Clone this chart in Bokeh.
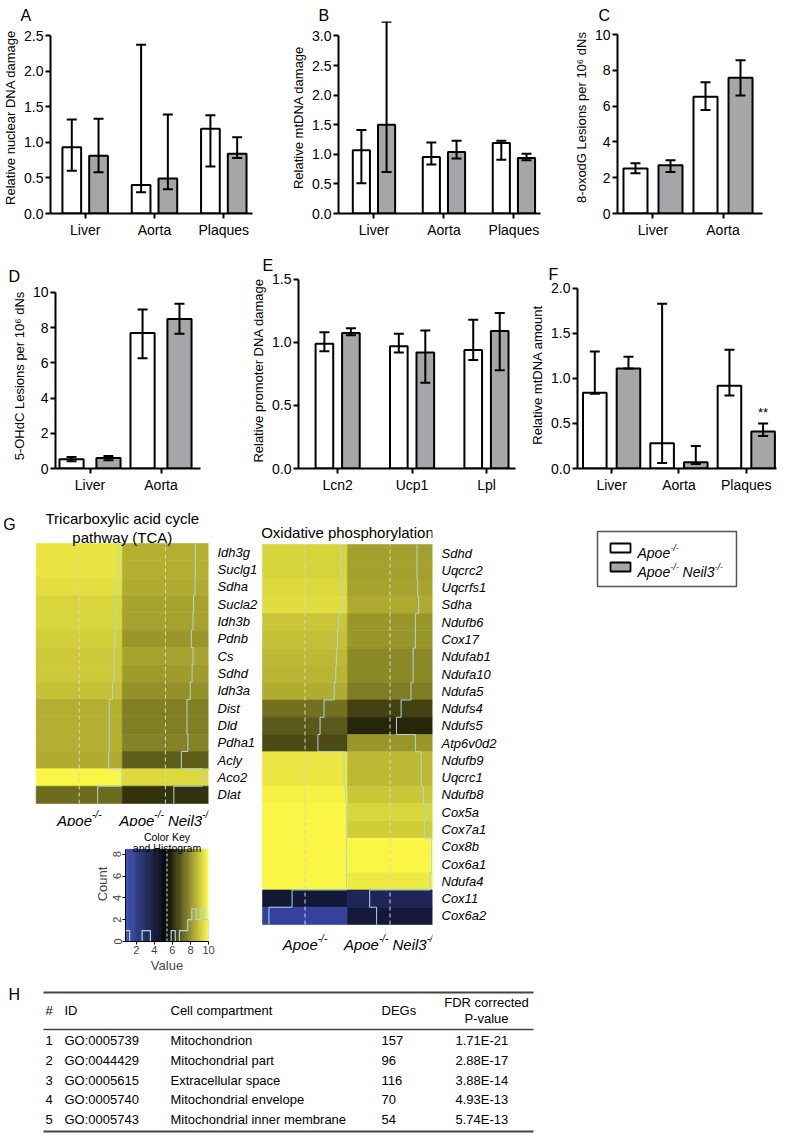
import numpy as np
from bokeh.plotting import figure
from bokeh.models import (ColumnDataSource, Range1d, FixedTicker, NumeralTickFormatter,
                          Whisker, TeeHead, LinearColorMapper)
from bokeh.transform import dodge
from bokeh.layouts import row, column
from bokeh.core.properties import value
from bokeh.embed import file_html
from bokeh.resources import INLINE

# ---------------------------------------------------------------- data
tissues3 = ["Liver", "Aorta", "Plaques"]
tissues2 = ["Liver", "Aorta"]
promoters = ["Lcn2", "Ucp1", "Lpl"]

A_apoe = [0.93, 0.40, 1.19]
A_apoe_lo = [0.60, 0.30, 0.66]
A_apoe_hi = [1.32, 2.37, 1.38]
A_neil3 = [0.81, 0.49, 0.84]
A_neil3_lo = [0.58, 0.34, 0.78]
A_neil3_hi = [1.33, 1.39, 1.07]
A_yticks = [0, 0.5, 1.0, 1.5, 2.0, 2.5]

B_apoe = [1.07, 0.955, 1.19]
B_apoe_lo = [0.51, 0.83, 0.91]
B_apoe_hi = [1.41, 1.20, 1.23]
B_neil3 = [1.50, 1.04, 0.94]
B_neil3_lo = [0.70, 0.93, 0.90]
B_neil3_hi = [3.24, 1.23, 1.01]
B_yticks = [0, 0.5, 1.0, 1.5, 2.0, 2.5, 3.0]

C_apoe = [2.51, 6.53]
C_apoe_lo = [2.25, 5.79]
C_apoe_hi = [2.81, 7.34]
C_neil3 = [2.70, 7.58]
C_neil3_lo = [2.32, 6.59]
C_neil3_hi = [2.98, 8.56]
C_yticks = [0, 2, 4, 6, 8, 10]

D_apoe = [0.52, 7.70]
D_apoe_lo = [0.41, 6.26]
D_apoe_hi = [0.65, 9.03]
D_neil3 = [0.60, 8.50]
D_neil3_lo = [0.47, 7.66]
D_neil3_hi = [0.71, 9.36]
D_yticks = [0, 2, 4, 6, 8, 10]

E_apoe = [0.99, 0.97, 0.94]
E_apoe_lo = [0.93, 0.92, 0.86]
E_apoe_hi = [1.08, 1.07, 1.18]
E_neil3 = [1.075, 0.92, 1.09]
E_neil3_lo = [1.057, 0.68, 0.78]
E_neil3_hi = [1.113, 1.095, 1.234]
E_yticks = [0, 0.5, 1.0, 1.5]

F_apoe = [0.84, 0.28, 0.92]
F_apoe_lo = [0.83, 0.06, 0.81]
F_apoe_hi = [1.30, 1.83, 1.32]
F_neil3 = [1.11, 0.07, 0.41]
F_neil3_lo = [1.11, 0.05, 0.36]
F_neil3_hi = [1.24, 0.25, 0.50]
F_neil3_sig = ["", "", "**"]
F_yticks = [0, 0.5, 1.0, 1.5, 2.0]

tca_genes = ["Idh3g", "Suclg1", "Sdha", "Sucla2", "Idh3b", "Pdnb", "Cs", "Sdhd",
             "Idh3a", "Dist", "Dld", "Pdha1", "Acly", "Aco2", "Dlat"]
tca_apoe = [9.58, 9.58, 9.47, 9.30, 9.30, 9.20, 9.10, 9.10, 8.95, 8.60, 8.60, 8.60, 8.55, 9.90, 7.37]
tca_neil3 = [8.60, 8.60, 8.55, 8.40, 8.35, 8.16, 8.35, 8.25, 8.05, 7.70, 7.70, 7.80, 7.10, 9.36, 6.30]

ox_genes = ["Sdhd", "Uqcrc2", "Uqcrfs1", "Sdha", "Ndufb6", "Cox17", "Ndufab1", "Ndufa10",
            "Ndufa5", "Ndufs4", "Ndufs5", "Atp6v0d2", "Ndufb9", "Uqcrc1", "Ndufb8", "Cox5a",
            "Cox7a1", "Cox8b", "Cox6a1", "Ndufa4", "Cox11", "Cox6a2"]
ox_apoe = [9.27, 9.27, 9.38, 9.45, 9.02, 8.90, 8.80, 8.73, 8.56, 7.46, 7.03, 6.80,
           9.64, 9.64, 9.80, 9.90, 9.90, 9.90, 9.90, 9.90, 4.00, 1.50]
ox_neil3 = [8.32, 8.32, 8.40, 8.50, 8.14, 8.14, 7.90, 7.90, 7.67, 6.60, 6.10, 8.14,
            8.78, 8.78, 9.03, 9.30, 9.14, 9.90, 9.90, 9.70, 3.20, 3.95]

key_ticks = [2, 4, 6, 8, 10]
key_count_ticks = [0, 2, 4, 6, 8]
key_hist_counts = [1, 0, 0, 0, 1, 1, 0, 0, 0, 0, 0, 1, 0, 1, 1, 2, 3, 2, 3, 2]

tbl_rank = [1, 2, 3, 4, 5]
tbl_go = ["GO:0005739", "GO:0044429", "GO:0005615", "GO:0005740", "GO:0005743"]
tbl_comp = ["Mitochondrion", "Mitochondrial part", "Extracellular space",
            "Mitochondrial envelope", "Mitochondrial inner membrane"]
tbl_degs = [157, 96, 116, 70, 54]
tbl_fdr = [1.71e-21, 2.88e-17, 3.88e-14, 4.93e-13, 5.74e-13]

# ---------------------------------------------------------------- style
FONT = "Liberation Sans"
WHITE_FILL = "#ffffff"
GREY_FILL = "#a6a6a9"
TRACE = "#a9d8de"
VMIN, VMAX = 0.8, 10.0
VMID = (VMIN + VMAX) / 2
KEY_TOP = 8.45


def make_palette(n=256):
    anchors_t = [0.0, (VMID - VMIN) / (VMAX - VMIN), 1.0]
    anchors_c = np.array([[62, 78, 182], [0, 0, 0], [255, 250, 70]], dtype=float)
    t = np.linspace(0, 1, n)
    cols = np.stack([np.interp(t, anchors_t, anchors_c[:, k]) for k in range(3)], axis=1)
    return ["#%02x%02x%02x" % tuple(int(round(v)) for v in c) for c in cols]


PALETTE = make_palette()
MAPPER = LinearColorMapper(palette=PALETTE, low=VMIN, high=VMAX)

ARIAL_W = {'A': 667, 'p': 556, 'o': 556, 'e': 556, 'N': 722, 'i': 222, 'l': 222,
           '3': 556, '-': 333, '/': 278, ' ': 278}


def tw(s, size):
    return sum(ARIAL_W.get(ch, 556) for ch in s) * size / 1000.0


APOE_PIECES = [("Apoe", False), ("-/-", True)]
DKO_PIECES = APOE_PIECES + [(" ", False), ("Neil3", False), ("-/-", True)]


def txt(p, x, y, s, size, **kw):
    opts = dict(text_font=value(FONT), text_font_size=f"{size}px", text_color="black",
                text_baseline="alphabetic")
    opts.update(kw)
    p.text(x=[x], y=[y], text=[s], **opts)


def sup_text(p, x, y, pieces, size=15, sup_size=10, rise=6, align="center", dy=0):
    widths = [tw(t, sup_size if s else size) for t, s in pieces]
    start = -sum(widths) / 2 if align == "center" else 0.0
    for (t, s), w in zip(pieces, widths):
        if t.strip():
            txt(p, x, y, t, sup_size if s else size, x_offset=start,
                y_offset=dy - (rise if s else 0), text_font_style="italic",
                text_align="left")
        start += w


def style_axis(ax, label_size="14px"):
    ax.axis_line_width = 2
    ax.axis_line_color = "black"
    ax.major_tick_line_width = 2
    ax.major_tick_line_color = "black"
    ax.major_tick_out = 5
    ax.major_tick_in = 0
    ax.minor_tick_line_color = None
    ax.major_label_text_font = FONT
    ax.major_label_text_font_size = label_size
    ax.major_label_text_color = "black"
    ax.axis_label_text_font = FONT
    ax.axis_label_text_font_size = "13px"
    ax.axis_label_text_font_style = "normal"
    ax.axis_label_text_color = "black"
    ax.axis_label_standoff = 3
    ax.major_label_standoff = 2


def new_fig(w, h, xr, yr, borders, **kw):
    bl, br, bt, bb = borders
    p = figure(width=w, height=h, x_range=xr, y_range=yr, output_backend="svg",
               toolbar_location=None, min_border_left=bl, min_border_right=br,
               min_border_top=bt, min_border_bottom=bb, frame_align=False, **kw)
    p.outline_line_color = None
    p.grid.visible = False
    p.background_fill_color = "white"
    p.border_fill_color = "white"
    return p


def letter_strip(x0, x1, y0, y1, letters, baseline):
    # a thin strip whose data units equal screen pixels, carrying panel letters
    p = new_fig(x1 - x0, y1 - y0, Range1d(x0, x1), Range1d(y1, y0), (0, 0, 0, 0),
                x_axis_location=None, y_axis_location=None)
    for lx, lt in letters:
        txt(p, lx, baseline, lt, 16)
    return p


def bar_panel(ylabel, cats, apoe, apoe_lo, apoe_hi, neil, neil_lo, neil_hi,
              yticks, yfmt, ymax, xr, off, bw, w, h, borders, sig=None):
    p = new_fig(w, h, Range1d(*xr), Range1d(0, ymax), borders)
    g = list(range(len(cats)))
    for vals, lo, hi, dx, fill, s in [(apoe, apoe_lo, apoe_hi, -off, WHITE_FILL, None),
                                      (neil, neil_lo, neil_hi, off, GREY_FILL, sig)]:
        src = ColumnDataSource(dict(g=g, val=vals, lo=lo, hi=hi,
                                    sig=s if s is not None else [""] * len(g)))
        p.vbar(x=dodge("g", dx, range=p.x_range), top="val", width=bw, source=src,
               fill_color=fill, line_color="black", line_width=2)
        wk = Whisker(source=src, base=dodge("g", dx, range=p.x_range), upper="hi",
                     lower="lo", line_width=2, line_color="black", level="overlay",
                     upper_head=TeeHead(size=10, line_width=2, line_color="black"),
                     lower_head=TeeHead(size=10, line_width=2, line_color="black"))
        p.add_layout(wk)
        if s is not None:
            p.text(x=dodge("g", dx, range=p.x_range), y="hi", text="sig", source=src,
                   text_align="center", text_baseline="bottom", y_offset=-3,
                   text_font=value(FONT), text_font_size="13px", text_color="black")
    yax = p.yaxis[0]
    style_axis(yax)
    yax.ticker = FixedTicker(ticks=yticks)
    yax.formatter = NumeralTickFormatter(format=yfmt)
    yax.bounds = (0, yticks[-1])
    yax.axis_label = ylabel
    xax = p.xaxis[0]
    style_axis(xax)
    xax.ticker = FixedTicker(ticks=g)
    xax.major_label_overrides = {i: c for i, c in enumerate(cats)}
    xax.major_label_standoff = 3
    return p


# ---------------------------------------------------------------- row 1
strip1 = letter_strip(0, 787, 0, 21, [(20, "A"), (318, "B"), (598, "C")], 15)
pA = bar_panel("Relative nuclear DNA damage", tissues3,
               A_apoe, A_apoe_lo, A_apoe_hi, A_neil3, A_neil3_lo, A_neil3_hi,
               A_yticks, "0.0", 2.697, (-0.5, 2.414), 0.193, 0.27,
               256, 227, (48, 4, 0, 35))
pB = bar_panel("Relative mtDNA damage", tissues3,
               B_apoe, B_apoe_lo, B_apoe_hi, B_neil3, B_neil3_lo, B_neil3_hi,
               B_yticks, "0.0", 3.245, (-0.507, 2.38), 0.18, 0.245,
               290, 227, (82, 6, 0, 35))
pC = bar_panel("8-oxodG Lesions per 10\u2076 dNs", tissues2,
               C_apoe, C_apoe_lo, C_apoe_hi, C_neil3, C_neil3_lo, C_neil3_hi,
               C_yticks, "0", 10.73, (-0.507, 1.564), 0.25, 0.343,
               241, 227, (71, 25, 0, 35))

# ---------------------------------------------------------------- row 2
stripD = letter_strip(0, 248, 248, 283, [(8, "D")], 276)
pD = bar_panel("5-OHdC Lesions per 10\u2076 dNs", tissues2,
               D_apoe, D_apoe_lo, D_apoe_hi, D_neil3, D_neil3_lo, D_neil3_hi,
               D_yticks, "0", 10.51, (-0.486, 1.556), 0.26, 0.34,
               248, 212, (55, 48, 0, 26))
stripE = letter_strip(248, 527, 248, 272, [(262, "E")], 265)
pE = bar_panel("Relative promoter DNA damage", promoters,
               E_apoe, E_apoe_lo, E_apoe_hi, E_neil3, E_neil3_lo, E_neil3_hi,
               E_yticks, "0.0", 1.555, (-0.526, 2.39), 0.178, 0.237,
               279, 223, (45, 12, 0, 26))
stripF = letter_strip(527, 787, 248, 281, [(548, "F")], 274)
pF = bar_panel("Relative mtDNA amount", tissues3,
               F_apoe, F_apoe_lo, F_apoe_hi, F_neil3, F_neil3_lo, F_neil3_hi,
               F_yticks, "0.0", 2.077, (-0.507, 2.449), 0.25, 0.35,
               260, 214, (45, 11, 0, 26), sig=F_neil3_sig)


# ---------------------------------------------------------------- heatmaps
def heatmap(genes, apoe, neil, w, h, frame_w, heat_px, heat_top, heat_h, lab_dy):
    """frame fills the canvas except the right border; heat_px = heatmap width in px,
    heat_top / heat_h = offset from canvas top and height of heatmap rows in px."""
    n = len(genes)
    kx = 2.0 / heat_px
    ky = n / heat_h
    x_start = -(frame_w - heat_px) * kx
    y_end = n + 0.5 + heat_top * ky
    y_start = 0.5 - (h - heat_top - heat_h) * ky
    p = new_fig(w, h, Range1d(x_start, 2), Range1d(y_start, y_end),
                (0, w - frame_w, 0, 0), x_axis_location=None, y_axis_location="right")
    ys = [n - i for i in range(n)]
    cmap = {"field": "v", "transform": MAPPER}
    src = ColumnDataSource(dict(x=[0.5] * n + [1.5] * n, y=ys + ys,
                                v=list(apoe) + list(neil)))
    p.rect(x="x", y="y", width=1, height=1, source=src, fill_color=cmap,
           line_color=cmap, line_width=0.6)
    for c, vals in enumerate([apoe, neil]):
        vx = c + (VMID - VMIN) / (VMAX - VMIN)
        p.segment(x0=[vx], x1=[vx], y0=[0.5], y1=[n + 0.5], line_color="#d6d6c8",
                  line_dash="4 3", line_width=1)
        xs = c + (np.array(vals) - VMIN) / (VMAX - VMIN)
        tx = np.repeat(xs, 2)
        ty = np.column_stack([np.array(ys) + 0.5, np.array(ys) - 0.5]).ravel()
        p.line(tx, ty, line_color=TRACE, line_width=1)
    ax = p.yaxis[0]
    ax.ticker = FixedTicker(ticks=ys)
    ax.major_label_overrides = {n - i: gname for i, gname in enumerate(genes)}
    ax.axis_line_color = None
    ax.major_tick_line_color = None
    ax.minor_tick_line_color = None
    ax.major_label_standoff = 3
    ax.major_label_text_font = FONT
    ax.major_label_text_font_size = "13px"
    ax.major_label_text_font_style = "italic"
    ax.major_label_text_color = "black"
    sup_text(p, 0.5, 0.5, APOE_PIECES, dy=lab_dy)
    sup_text(p, 1.5, 0.5, DKO_PIECES, dy=lab_dy)
    return p


pTCA = heatmap(tca_genes, tca_apoe, tca_neil3, 260, 331, 210, 174, 48, 260, 17)
n_tca = len(tca_genes)
txt(pTCA, 1.0, n_tca + 0.5, "Tricarboxylic acid cycle", 15, text_align="center", y_offset=-25)
txt(pTCA, 1.0, n_tca + 0.5, "pathway (TCA)", 15, text_align="center", y_offset=-6)
txt(pTCA, 0.0, n_tca + 0.5, "G", 16, text_align="left", x_offset=-33, y_offset=-19)

pOX = heatmap(ox_genes, ox_apoe, ox_neil3, 285, 480, 172, 170, 49, 380, 20)
txt(pOX, 1.0, len(ox_genes) + 0.5, "Oxidative phosphorylation", 15, text_align="center",
    y_offset=-12)

# ---------------------------------------------------------------- color key
key_top_px = 23
key_h_px = 93
key_yend = KEY_TOP + key_top_px * KEY_TOP / key_h_px
pKey = new_fig(260, 149, Range1d(VMIN, VMAX), Range1d(0, key_yend), (125, 52, 0, 33))
edges = np.linspace(VMIN, VMAX, 94)
kv = (edges[:-1] + edges[1:]) / 2
ksrc = ColumnDataSource(dict(l=edges[:-1], r=edges[1:], v=kv))
kc = {"field": "v", "transform": MAPPER}
pKey.quad(left="l", right="r", bottom=0, top=KEY_TOP, source=ksrc, fill_color=kc,
          line_color=kc, line_width=0.5)
pKey.segment(x0=[VMID], x1=[VMID], y0=[0], y1=[KEY_TOP], line_color="#b8c4c8",
             line_dash="3 2", line_width=1.2)
hedges = np.linspace(VMIN, VMAX, len(key_hist_counts) + 1)
pKey.step(x=list(hedges), y=list(key_hist_counts) + [0], mode="after",
          line_color=TRACE, line_width=1.2)
for ax, ticks in [(pKey.xaxis[0], key_ticks), (pKey.yaxis[0], key_count_ticks)]:
    ax.ticker = FixedTicker(ticks=ticks)
    ax.axis_line_width = 1
    ax.major_tick_out = 3
    ax.major_tick_in = 0
    ax.minor_tick_line_color = None
    ax.major_label_text_font = FONT
    ax.major_label_text_font_size = "11px"
    ax.major_label_standoff = 1
    ax.axis_label_text_font = FONT
    ax.axis_label_text_font_size = "13px"
    ax.axis_label_text_font_style = "normal"
    ax.axis_label_standoff = 1
pKey.yaxis[0].bounds = (0, KEY_TOP)
pKey.xaxis[0].axis_label = "Value"
pKey.yaxis[0].axis_label = "Count"
pKey.yaxis[0].major_label_orientation = "vertical"
txt(pKey, VMID, KEY_TOP, "Color Key", 10.5, text_align="center", y_offset=-12)
txt(pKey, VMID, KEY_TOP, "and Histogram", 10.5, text_align="center", y_offset=-1)

# ---------------------------------------------------------------- legend panel
pLeg = new_fig(242, 480, Range1d(545, 787), Range1d(975, 495), (0, 0, 0, 0),
               x_axis_location=None, y_axis_location=None)
pLeg.quad(left=597, right=736, top=531, bottom=586, fill_color=None,
          line_color="#555555", line_width=1.5)
pLeg.quad(left=[610, 610], right=[630, 630], top=[543, 562], bottom=[552, 571],
          fill_color=[WHITE_FILL, GREY_FILL], line_color="black", line_width=1.8)
sup_text(pLeg, 637, 552, APOE_PIECES, size=14, sup_size=9, rise=5, align="left")
sup_text(pLeg, 637, 571, DKO_PIECES, size=14, sup_size=9, rise=5, align="left")

# ---------------------------------------------------------------- table H
pT = new_fig(787, 161, Range1d(0, 787), Range1d(1136, 975), (0, 0, 0, 0),
             x_axis_location=None, y_axis_location=None)
txt(pT, 8, 994, "H", 16)
pT.segment(x0=[43, 43, 43], x1=[533, 533, 533], y0=[992, 1029, 1131],
           y1=[992, 1029, 1131], line_color="#444444", line_width=[2, 1.5, 2])
hdr_kw = dict(text_font=value(FONT), text_font_size="13px", text_baseline="middle",
              text_color="black")
pT.text(x=[45, 64, 170, 381], y=[1010] * 4, text=["#", "ID", "Cell compartment", "DEGs"],
        **hdr_kw)
pT.text(x=[486, 486], y=[1002, 1018], text=["FDR corrected", "P-value"],
        text_align="center", **hdr_kw)
row_y = [1040 + 19.75 * i for i in range(len(tbl_rank))]
tsrc = ColumnDataSource(dict(y=row_y, rank=[str(r) for r in tbl_rank], go=tbl_go,
                             comp=tbl_comp, degs=[str(d) for d in tbl_degs],
                             fdr=["%.2E" % f for f in tbl_fdr]))
for xx, col in [(45, "rank"), (64, "go"), (170, "comp"), (381, "degs"), (455, "fdr")]:
    pT.text(x=xx, y="y", text=col, source=tsrc, **hdr_kw)

# ---------------------------------------------------------------- layout
layout = column(strip1, row(pA, pB, pC),
                row(column(stripD, pD), column(stripE, pE), column(stripF, pF)),
                row(column(pTCA, pKey), pOX, pLeg), pT)

open("out.html", "w").write(file_html(layout, INLINE))
